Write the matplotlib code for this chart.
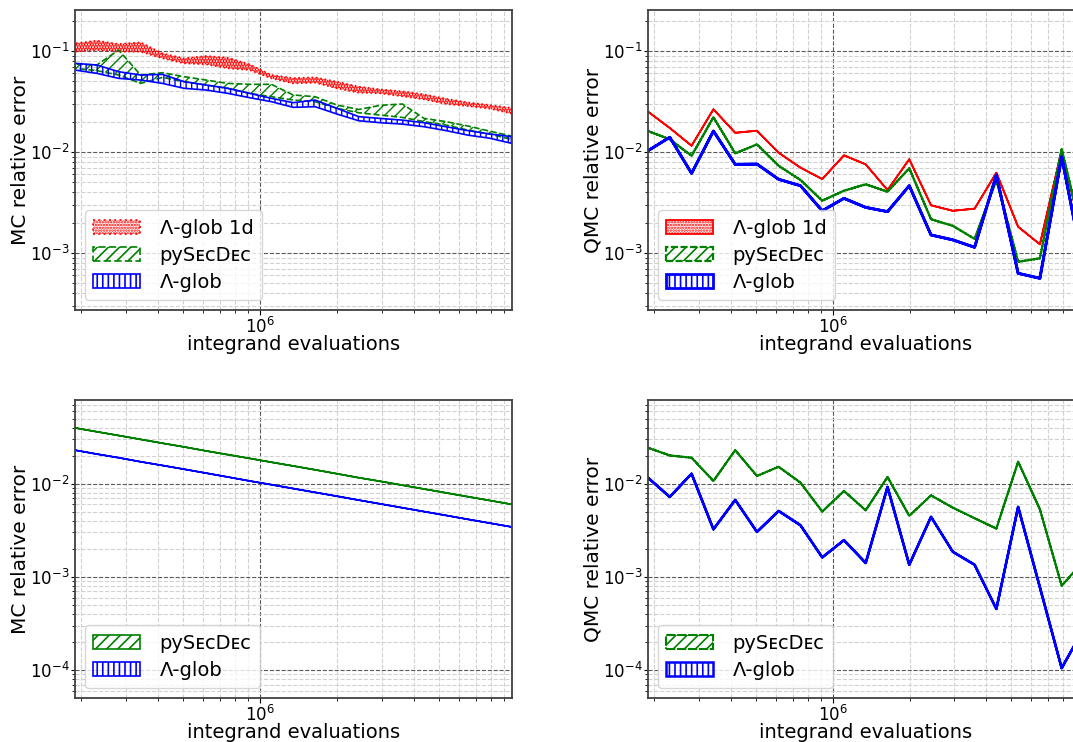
import numpy as np
import matplotlib
matplotlib.use("Agg")
from matplotlib import pyplot as plt

# integrand evaluations
n_eval = [189000, 230000, 280000, 341000, 415000, 505000, 614000, 748000, 910000,
          1107000, 1347000, 1640000, 1995000, 2428000, 2955000, 3597000, 4377000,
          5327000, 6483000, 7890000, 9602000]

# MC, problem 1 (error bands)
mc1_glob1d_lo = [0.0985, 0.1023, 0.0985, 0.0985, 0.0846, 0.0755, 0.0738, 0.0674, 0.0648, 0.0536, 0.0478,
                 0.0486, 0.0427, 0.0387, 0.0381, 0.0356, 0.0332, 0.0299, 0.0285, 0.0269, 0.0241]
mc1_glob1d_hi = [0.119, 0.1266, 0.1173, 0.1218, 0.0948, 0.0846, 0.0892, 0.0859, 0.0738, 0.0579, 0.0540,
                 0.0548, 0.0497, 0.0444, 0.0417, 0.0399, 0.0372, 0.0337, 0.0310, 0.0292, 0.0273]
mc1_secdec_lo = [0.0674, 0.0639, 0.0579, 0.0478, 0.0548, 0.0497, 0.0461, 0.0427, 0.0381, 0.0353, 0.0327,
                 0.0315, 0.0271, 0.0245, 0.0232, 0.0220, 0.0200, 0.0185, 0.0165, 0.0151, 0.0133]
mc1_secdec_hi = [0.0743, 0.0727, 0.1023, 0.0579, 0.0610, 0.0557, 0.0516, 0.0478, 0.0468, 0.0468, 0.0367,
                 0.0353, 0.0292, 0.0264, 0.0290, 0.0299, 0.0215, 0.0200, 0.0181, 0.0161, 0.0144]
mc1_glob_lo = [0.0648, 0.0601, 0.0536, 0.0516, 0.0478, 0.0427, 0.0411, 0.0381, 0.0345, 0.0315, 0.0277,
               0.0281, 0.0238, 0.0204, 0.0195, 0.0189, 0.0178, 0.0163, 0.0147, 0.0137, 0.0122]
mc1_glob_hi = [0.0755, 0.0727, 0.0624, 0.0579, 0.0587, 0.0497, 0.0461, 0.0427, 0.0381, 0.0340, 0.0308,
               0.0327, 0.0271, 0.0224, 0.0215, 0.0207, 0.0195, 0.0178, 0.0163, 0.0151, 0.0142]

# QMC, problem 1
qmc1_glob1d = [0.0251, 0.0173, 0.01154, 0.0265, 0.0155, 0.01626, 0.00984, 0.0070, 0.0054, 0.00927, 0.00755,
               0.0042, 0.00848, 0.00297, 0.00262, 0.00275, 0.00624, 0.00182, 0.00122, 0.01047, 0.00129]
qmc1_secdec = [0.01614, 0.01336, 0.00918, 0.0221, 0.0097, 0.0119, 0.00731, 0.00528, 0.0033, 0.00414, 0.00479,
               0.00405, 0.0069, 0.00216, 0.00186, 0.00138, 0.00528, 0.00082, 0.000887, 0.01064, 0.00136]
qmc1_glob = [0.0103, 0.0140, 0.00615, 0.01614, 0.00755, 0.0076, 0.00537, 0.00464, 0.00262, 0.00348, 0.00283,
             0.00257, 0.00464, 0.00151, 0.00135, 0.00114, 0.00592, 0.00063, 0.000562, 0.00897, 0.000714]

# MC, problem 2
mc2_secdec = [0.0397, 0.0361, 0.0329, 0.0299, 0.0272, 0.0248, 0.0225, 0.0205, 0.0187, 0.0170, 0.0155,
              0.0141, 0.0128, 0.0116, 0.0106, 0.00964, 0.00877, 0.00798, 0.00726, 0.00661, 0.00601]
mc2_glob = [0.0229, 0.0208, 0.0190, 0.0172, 0.0157, 0.0143, 0.0130, 0.0118, 0.0107, 0.00976, 0.00887,
            0.00807, 0.00735, 0.00667, 0.00607, 0.00552, 0.00502, 0.00457, 0.00415, 0.00378, 0.00344]

# QMC, problem 2
qmc2_secdec = [0.0243, 0.0201, 0.0190, 0.0107, 0.0229, 0.0121, 0.0152, 0.01025, 0.00502, 0.00836, 0.00518,
               0.0118, 0.00452, 0.0075, 0.00553, 0.00426, 0.00330, 0.0172, 0.00531, 0.000805, 0.00147]
qmc2_glob = [0.0116, 0.00721, 0.0128, 0.00324, 0.0067, 0.00304, 0.0051, 0.00358, 0.00162, 0.00248, 0.00141,
             0.00922, 0.00135, 0.00441, 0.00186, 0.00135, 0.000453, 0.00564, 0.000773, 0.000105, 0.000275]

lbl_1d = "\u039b-glob 1d"
lbl_sd = "pyS\u1d07\u1d04D\u1d07\u1d04"
lbl_gl = "\u039b-glob"

plt.rcParams['font.size'] = 13
plt.rcParams['hatch.linewidth'] = 1.0
plt.rcParams['xtick.major.pad'] = 1.5
plt.rcParams['ytick.major.pad'] = 1
plt.rcParams['ytick.major.size'] = 3

fig = plt.figure(figsize=(10.73, 7.42), dpi=100)
W, H = 1073.0, 742.0
def box(l, t, r, b):
    return [l / W, (H - b) / H, (r - l) / W, (b - t) / H]

ax1 = fig.add_axes(box(75, 10, 512, 310))
ax2 = fig.add_axes(box(648, 10, 1084, 310))
ax3 = fig.add_axes(box(75, 400, 512, 698))
ax4 = fig.add_axes(box(648, 400, 1084, 698))

sty_1d = dict(facecolor='none', edgecolor='red', hatch='......', linestyle=':', linewidth=1.2, label=lbl_1d)
sty_sd = dict(facecolor='none', edgecolor='green', hatch='///', linestyle='--', linewidth=1.2, label=lbl_sd)
sty_gl = dict(facecolor='none', edgecolor='blue', hatch='|||', linestyle='-', linewidth=1.2, label=lbl_gl)

with plt.rc_context({'hatch.linewidth': 1.8}):
    ax1.fill_between(n_eval, mc1_glob1d_lo, mc1_glob1d_hi, **sty_1d)
ax1.fill_between(n_eval, mc1_secdec_lo, mc1_secdec_hi, **sty_sd)
ax1.fill_between(n_eval, mc1_glob_lo, mc1_glob_hi, **sty_gl)

with plt.rc_context({'hatch.linewidth': 1.8}):
    ax2.fill_between(n_eval, qmc1_glob1d, qmc1_glob1d, **dict(sty_1d, linestyle='-', linewidth=1.3))
ax2.fill_between(n_eval, qmc1_secdec, qmc1_secdec, **dict(sty_sd, linestyle=(0, (2, 0.7)), linewidth=1.6))
ax2.fill_between(n_eval, qmc1_glob, qmc1_glob, **dict(sty_gl, linewidth=2.0))

ax3.fill_between(n_eval, mc2_secdec, mc2_secdec, **dict(sty_sd, linestyle='-'))
ax3.fill_between(n_eval, mc2_glob, mc2_glob, **sty_gl)

ax4.fill_between(n_eval, qmc2_secdec, qmc2_secdec, **dict(sty_sd, linestyle=(0, (3, 0.5)), linewidth=1.5))
ax4.fill_between(n_eval, qmc2_glob, qmc2_glob, **dict(sty_gl, linewidth=1.8))

for ax, ylab, ylim in [(ax1, "MC relative error", (2.73e-4, 0.2547)),
                       (ax2, "QMC relative error", (2.73e-4, 0.2547)),
                       (ax3, "MC relative error", (5.02e-5, 0.0791)),
                       (ax4, "QMC relative error", (5.02e-5, 0.0791))]:
    ax.set_xscale('log')
    ax.set_yscale('log')
    ax.set_xlim(n_eval[0], 9.65e6)
    ax.set_ylim(*ylim)
    ax.grid(which='major', linestyle='--', color='0.35', linewidth=0.8)
    ax.grid(which='minor', linestyle='--', color='0.82', linewidth=0.8)
    ax.set_axisbelow(True)
    ax.tick_params(labelsize=12)
    ax.set_xlabel("integrand evaluations", fontsize=14, labelpad=-1.5)
    ax.set_ylabel(ylab, fontsize=14.5, labelpad=0)
    for s in ax.spines.values():
        s.set_color('0.25')
        s.set_linewidth(1.3)
    with plt.rc_context({'hatch.linewidth': 1.2}):
        ax.legend(loc='lower left', fontsize=14, handlelength=2.4, borderpad=0.45,
                  labelspacing=0.4, handletextpad=1.0)

fig.savefig("out.png", dpi=100)
